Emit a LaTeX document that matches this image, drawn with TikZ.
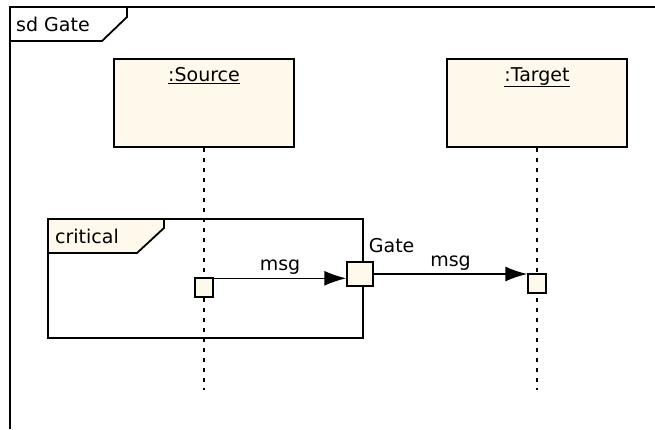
\documentclass[tikz,border=0pt]{standalone}
\usepackage{fontspec}
\setmainfont{DejaVu Sans}
\usepackage{tikz}
\usetikzlibrary{arrows.meta,positioning,calc}
\definecolor{lifecream}{RGB}{255,249,236}

\begin{document}
\begin{tikzpicture}[x=1pt, y=-1pt,
    lbl/.style={font=\fontsize{19}{21}\selectfont, inner sep=2pt},
    head/.style={draw, line width=1.8pt, fill=lifecream, minimum width=180pt, minimum height=88pt},
    act/.style={draw, line width=1.4pt, fill=lifecream, minimum width=18pt, minimum height=19pt, inner sep=0pt},
    life/.style={line width=1.5pt, dash pattern=on 4pt off 6pt},
    msgarrow/.style={line width=1.4pt, -{Latex[length=22pt,width=15pt]}},
    frameline/.style={line width=1.8pt},
]
    \useasboundingbox (0,0) rectangle (655,429);
    % Outer sd frame
    \draw[frameline] (10,429) -- (10,7) -- (655,7);
    \draw[frameline] (10,41) -- (102,41) -- (127,17) -- (127,7);
    \node[lbl, anchor=west] (sdlbl) at (14,24) {sd Gate};
    % Lifeline heads
    \node[head, label={[lbl, anchor=north, yshift=-7pt]north:\underline{:Source}}] (src) at (204,103) {};
    \node[head, label={[lbl, anchor=north, yshift=-7pt]north:\underline{:Target}}] (tgt) at (537,103) {};
    % Lifelines
    \coordinate (srcend) at (204,390);
    \coordinate (tgtend) at (537,390);
    \draw[life] (src.south) -- (srcend);
    \draw[life] (tgt.south) -- (tgtend);
    % critical fragment
    \draw[frameline] (48,219) rectangle (363,338);
    \filldraw[frameline, fill=lifecream] (48,219) -- (48,253) -- (137,253) -- (164,228) -- (164,219) -- cycle;
    \node[lbl, anchor=west] (critlbl) at (53,236) {critical};
    % Activations and gate
    \node[act] (srcact) at (204,287.5) {};
    \node[act] (tgtact) at (537,283.5) {};
    \node[act, minimum width=26pt, minimum height=24pt,
          label={[lbl, anchor=south west, xshift=-7pt, yshift=6pt]north east:Gate}] (gate) at (360,274) {};
    % Messages
    \coordinate (m1) at ($(srcact.north east)+(0,1)$);
    \draw[msgarrow] (m1) -- (m1 -| gate.west) node[lbl, midway, above, yshift=1pt] {msg};
    \draw[msgarrow] (gate.east) -- (gate.east -| tgtact.west) node[lbl, midway, above, yshift=1pt] {msg};
\end{tikzpicture}
\end{document}
